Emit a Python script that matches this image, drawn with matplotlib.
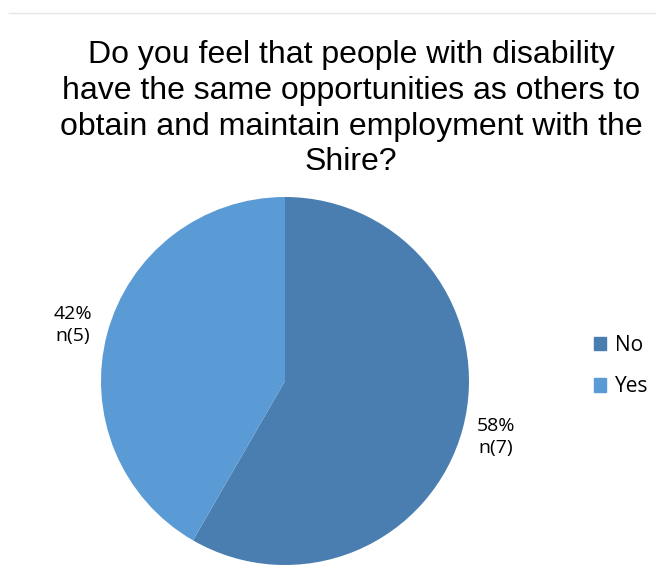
import matplotlib.pyplot as plt
import numpy as np

labels = ['No', 'Yes']
counts = [7, 5]
colors = ['#4a7eb0', '#5b9bd5']
title = ('Do you feel that people with disability\nhave the same opportunities as others to\n'
         'obtain and maintain employment with the\nShire?')

fig = plt.figure(figsize=(6.56, 5.68), dpi=100)

# faint frame line along the top
fig.add_artist(plt.Line2D([9 / 656, 1], [1 - 13 / 568, 1 - 13 / 568], color='#e6e6e6', lw=1))

fig.text(351 / 656, 1 - 40 / 568, title, ha='center', va='top', fontsize=23,
         family='Liberation Sans', linespacing=1.25)

# pie area: center (285, 381), radius 184 px
r = 184
ax = fig.add_axes([(285 - r) / 656, 1 - (381 + r) / 568, 2 * r / 656, 2 * r / 568])
wedges, _ = ax.pie(counts, colors=colors, startangle=90, counterclock=False,
                   wedgeprops=dict(linewidth=0))
ax.set_xlim(-1, 1)
ax.set_ylim(-1, 1)
ax.set_aspect('auto')

total = sum(counts)
label_pos = [(496, 437), (73, 325)]
for c, (x, y) in zip(counts, label_pos):
    fig.text(x / 656, 1 - y / 568, '{:.0f}%\nn({})'.format(100 * c / total, c),
             ha='center', va='center', fontsize=14, family='Open Sans', linespacing=1.25)

handles = [plt.Rectangle((0, 0), 1, 1, color=col) for col in colors]
fig.legend(handles, labels, loc='center left', bbox_to_anchor=(575 / 656, 1 - 366 / 568),
           frameon=False, prop={'family': 'Open Sans', 'size': 15},
           handlelength=0.6, handleheight=0.6, handletextpad=0.4, labelspacing=1.0)

fig.savefig('out.png', dpi=100)
